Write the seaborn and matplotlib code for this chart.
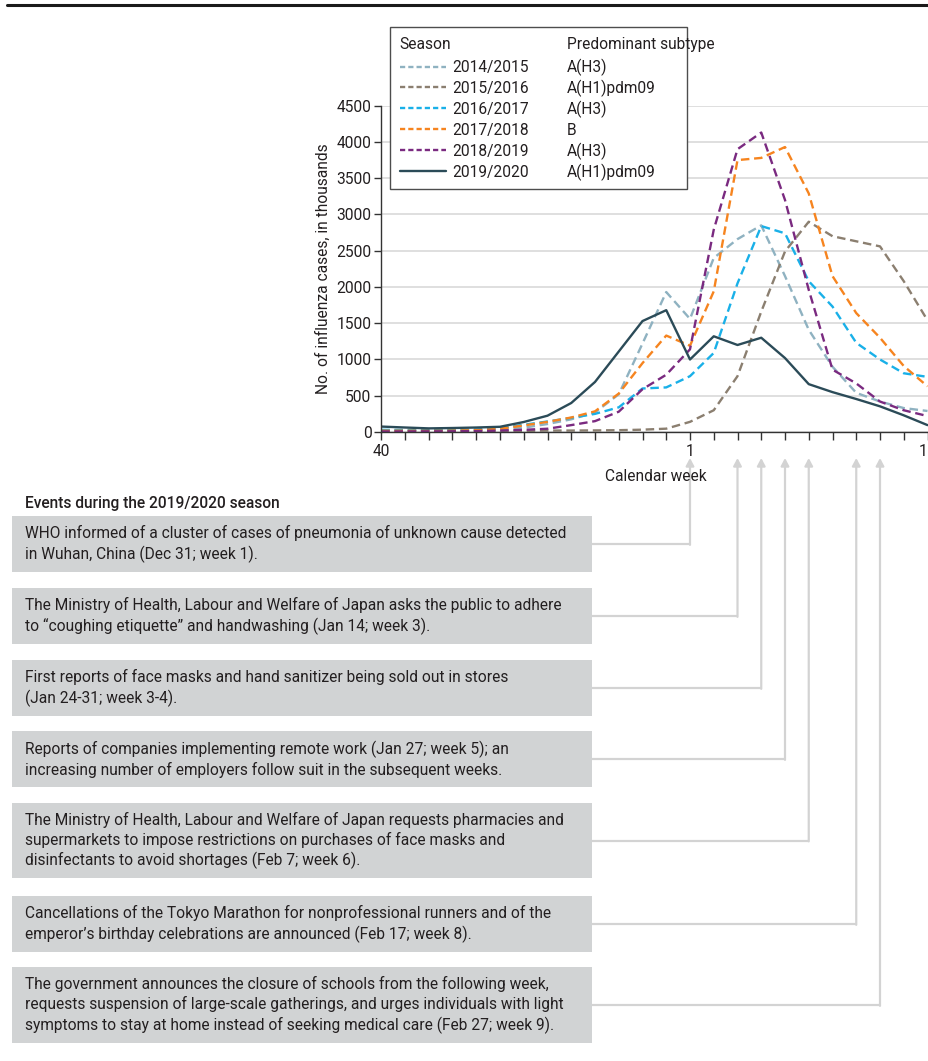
import matplotlib
matplotlib.use("Agg")
import matplotlib.pyplot as plt
import seaborn as sns
import numpy as np
import pandas as pd
from matplotlib.lines import Line2D
from matplotlib.patches import Rectangle, FancyArrowPatch

# ---------------- data ----------------
weeks = [40, 41, 42, 43, 44, 45, 46, 47, 48, 49, 50, 51, 52,
         1, 2, 3, 4, 5, 6, 7, 8, 9, 10, 11]
labelled_weeks = {0: "40", 13: "1", 23: "11"}

seasons = ["2014/2015", "2015/2016", "2016/2017", "2017/2018", "2018/2019", "2019/2020"]
subtypes = ["A(H3)", "A(H1)pdm09", "A(H3)", "B", "A(H3)", "A(H1)pdm09"]

s1415 = [25, 22, 20, 22, 25, 35, 60, 110, 175, 270, 520, 1220, 1930, 1560, 2400, 2660, 2850, 2150, 1410, 900, 540, 420, 330, 290]
s1516 = [8, 8, 8, 9, 10, 12, 15, 20, 20, 22, 25, 32, 46, 140, 300, 770, 1660, 2490, 2900, 2700, 2630, 2560, 2080, 1540]
s1617 = [30, 28, 28, 30, 35, 55, 100, 145, 195, 250, 340, 600, 615, 770, 1090, 2050, 2840, 2740, 2080, 1730, 1230, 1000, 810, 760]
s1718 = [18, 18, 18, 20, 25, 45, 90, 140, 200, 285, 530, 950, 1330, 1190, 1940, 3750, 3780, 3930, 3290, 2150, 1640, 1300, 910, 630]
s1819 = [8, 8, 9, 10, 12, 20, 30, 45, 95, 150, 280, 590, 790, 1140, 2790, 3900, 4130, 3200, 1960, 860, 670, 420, 300, 220]
s1920 = [75, 62, 50, 55, 62, 72, 138, 225, 400, 690, 1110, 1530, 1680, 1000, 1320, 1200, 1300, 1020, 660, 550, 455, 354, 230, 95]
series = [s1415, s1516, s1617, s1718, s1819, s1920]

colors = ["#8fb2c1", "#8b7f70", "#19b0e8", "#f6841f", "#7a2a80", "#2b4b58"]

event_title = "Events during the 2019/2020 season"
event_texts = [
    "WHO informed of a cluster of cases of pneumonia of unknown cause detected\nin Wuhan, China (Dec 31; week 1).",
    "The Ministry of Health, Labour and Welfare of Japan asks the public to adhere\nto \u201ccoughing etiquette\u201d and handwashing (Jan 14; week 3).",
    "First reports of face masks and hand sanitizer being sold out in stores\n(Jan 24-31; week 3-4).",
    "Reports of companies implementing remote work (Jan 27; week 5); an\nincreasing number of employers follow suit in the subsequent weeks.",
    "The Ministry of Health, Labour and Welfare of Japan requests pharmacies and\nsupermarkets to impose restrictions on purchases of face masks and\ndisinfectants to avoid shortages (Feb 7; week 6).",
    "Cancellations of the Tokyo Marathon for nonprofessional runners and of the\nemperor\u2019s birthday celebrations are announced (Feb 17; week 8).",
    "The government announces the closure of schools from the following week,\nrequests suspension of large-scale gatherings, and urges individuals with light\nsymptoms to stay at home instead of seeking medical care (Feb 27; week 9).",
]
event_arrow_index = [13, 15, 16, 17, 18, 20, 21]

# ---------------- style ----------------
sns.set_style("white")
plt.rcParams["font.family"] = ["Roboto", "DejaVu Sans"]
FS = 11.2
TXT = "#231f20"

W, H = 929, 1061
fig = plt.figure(figsize=(W / 100, H / 100), dpi=100)

def fx(px):
    return px / W

def fy(py):
    return 1 - py / H

ax_left, ax_right_tick = 381.25, 927.5
step = (ax_right_tick - ax_left) / 23
xmax = 23.1
ax_bottom_px, ax_top_px = 432, 105.7
ax = fig.add_axes([fx(ax_left), fy(ax_bottom_px), xmax * step / W, (ax_bottom_px - ax_top_px) / H])

df = pd.DataFrame({
    "idx": np.tile(np.arange(len(weeks)), len(seasons)),
    "season": np.repeat(seasons, len(weeks)),
    "cases": np.concatenate(series),
})
palette = dict(zip(seasons, colors))
dashes = {s: (3.6, 2.0) for s in seasons[:-1]}
dashes[seasons[-1]] = ""
sns.lineplot(data=df, x="idx", y="cases", hue="season", style="season",
             palette=palette, dashes=dashes, linewidth=1.7, legend=False, ax=ax)

ax.set_xlim(0, xmax)
ax.set_ylim(0, 4500)
ax.set_yticks(np.arange(0, 4501, 500))
ax.set_xticks(range(len(weeks)))
ax.set_xticklabels([labelled_weeks.get(i, "") for i in range(len(weeks))])
ax.yaxis.grid(True, color="#dcdcdc", lw=1.3)
ax.xaxis.grid(False)
ax.set_axisbelow(True)
for sp in ["top", "right"]:
    ax.spines[sp].set_visible(False)
ax.spines["left"].set_color("#333333")
ax.spines["bottom"].set_color("#333333")
ax.spines["left"].set_linewidth(1.0)
ax.spines["bottom"].set_linewidth(1.0)
ax.spines["bottom"].set_bounds(0, 23)
ax.tick_params(axis="y", direction="out", length=5, width=1, color="#333333",
               labelsize=FS, labelcolor=TXT, pad=2, left=True)
ax.tick_params(axis="x", direction="out", length=6, width=1, color="#333333",
               labelsize=FS, labelcolor=TXT, pad=3, bottom=True)
ax.set_xlabel("Calendar week", fontsize=FS, color=TXT, labelpad=7)
ax.set_ylabel("No. of influenza cases, in thousands", fontsize=FS, color=TXT, labelpad=4)

# ---------------- legend ----------------
handles = []
for s, c in zip(seasons, colors):
    if s == seasons[-1]:
        handles.append(Line2D([], [], color=c, lw=1.7))
    else:
        handles.append(Line2D([], [], color=c, lw=1.7, dashes=(2.2, 1.3)))
leg = ax.legend(handles, seasons, title="Season", loc="upper left",
                bbox_to_anchor=(fx(390), fy(27), fx(687) - fx(390), 0.0),
                bbox_transform=fig.transFigure, mode="expand",
                fontsize=FS, title_fontsize=FS, frameon=True, fancybox=False,
                edgecolor="#4d4d4d", framealpha=1, borderpad=0.62,
                labelspacing=0.38, handlelength=2.95, handletextpad=0.4,
                alignment="left", borderaxespad=0)
leg.get_frame().set_linewidth(1.0)
for t in leg.get_texts():
    t.set_color(TXT)
leg.get_title().set_color(TXT)
leg._legend_box.sep = 6

fig.canvas.draw()
inv = fig.transFigure.inverted()
sub_x = fx(567)
tb = leg.get_title().get_window_extent()
fig.text(sub_x, inv.transform(((tb.x0 + tb.x1) / 2, (tb.y0 + tb.y1) / 2))[1],
         "Predominant subtype", fontsize=FS, color=TXT, va="center", ha="left")
for t, sub in zip(leg.get_texts(), subtypes):
    bb = t.get_window_extent()
    yc = inv.transform(((bb.x0 + bb.x1) / 2, (bb.y0 + bb.y1) / 2))[1]
    fig.text(sub_x, yc, sub, fontsize=FS, color=TXT, va="center", ha="left")

# ---------------- top rule ----------------
fig.add_artist(Line2D([fx(7), 1], [fy(5), fy(5)], color="#1a1a1a", lw=2.2))

# ---------------- events ----------------
fig.text(fx(25), fy(503), event_title, fontsize=FS, color=TXT, va="center",
         ha="left", fontweight="medium")
box_tops = [516, 588, 660, 731, 803, 896, 967]
box_bots = [572, 644, 716, 787, 878, 952, 1043]
box_l, box_r = 12, 592
arrow_tip = 458
line_col = "#d3d3d3"
for txt, top, bot, idx in zip(event_texts, box_tops, box_bots, event_arrow_index):
    fig.add_artist(Rectangle((fx(box_l), fy(bot)), fx(box_r) - fx(box_l), (bot - top) / H,
                             transform=fig.transFigure, facecolor="#d1d3d4",
                             edgecolor="none", zorder=1))
    yc = (top + bot) / 2
    fig.text(fx(25), fy(yc), txt, fontsize=FS, color=TXT, va="center", ha="left",
             linespacing=1.32, zorder=3)
    xa = inv.transform(ax.transData.transform((idx, 0)))[0]
    fig.add_artist(Line2D([fx(box_r), xa], [fy(yc), fy(yc)], color=line_col, lw=1.6,
                          solid_capstyle="butt", zorder=0))
    fig.add_artist(FancyArrowPatch((xa, fy(yc) - 0.0008), (xa, fy(arrow_tip)),
                                   transform=fig.transFigure,
                                   arrowstyle="-|>,head_length=4.5,head_width=2.4",
                                   color=line_col, lw=1.6, shrinkA=0, shrinkB=0,
                                   zorder=0))

fig.savefig("out.png", dpi=100)
